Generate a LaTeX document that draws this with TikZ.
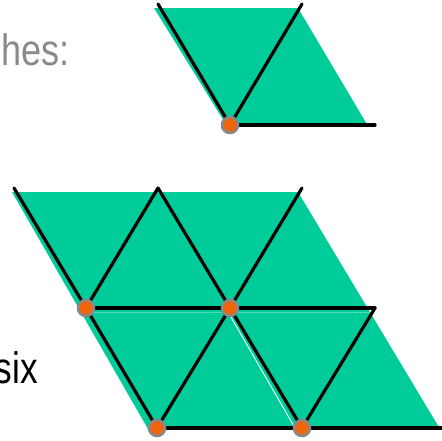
\documentclass[tikz,border=0pt]{standalone}
\usepackage{fontspec}
\setmainfont{Liberation Sans}
\definecolor{tilegreen}{HTML}{00CC99}
\definecolor{dotorange}{HTML}{F0640A}
\definecolor{ringgrey}{HTML}{888888}
\definecolor{textgrey}{HTML}{8A8A8A}
\tikzset{
  tile/.style={fill=tilegreen, draw=none},
  edge/.style={draw=black, line width=3.2pt, line cap=round},
  seam/.style={draw=white, line width=0.9pt},
  vdot/.style={circle, fill=dotorange, draw=ringgrey, line width=2.6pt, minimum size=16pt, inner sep=0pt},
  txt/.style={inner sep=0pt, font=\fontsize{44}{44}\selectfont}
}
\begin{document}
\begin{tikzpicture}[x=1pt,y=-1pt]
\useasboundingbox (0,0) rectangle (442,440);
% ---------- top figure ----------
\fill[tile] (154,8) -- (298,8) -- (368,126) -- (227,126) -- cycle;
\coordinate (ta) at (158,4);
\coordinate (tb) at (302,4);
\coordinate (tc) at (375,125);
\draw[edge] (ta) -- (230,125) -- (tb);
\draw[edge] (230,125) -- (tc);
\node[vdot] (t0) at (230,125) {};
% ---------- bottom figure ----------
\fill[tile] (12,192) -- (298,192) -- (440,429) -- (148,429) -- cycle;
\coordinate (a1) at (14,188);
\coordinate (a2) at (158,188);
\coordinate (a3) at (302,188);
\coordinate (b1) at (86,308);
\coordinate (b2) at (230,308);
\coordinate (b3) at (375,308);
\coordinate (c1) at (157,428);
\coordinate (c2) at (302,428);
\coordinate (c3) at (442,428);
% seams of the fill
\draw[seam] (228,312) -- (295,428);
\draw[seam, opacity=0.45, line width=0.5pt] (160,193) -- (227,303);
\draw[seam, opacity=0.3, line width=0.6pt] (90,312) -- (372,312);
% edges
\draw[edge] (a1) -- (b1) -- (c1);
\draw[edge] (a2) -- (b2) -- (c2);
\draw[edge] (b1) -- (a2);
\draw[edge] (b2) -- (a3);
\draw[edge] (c1) -- (b2);
\draw[edge] (c2) -- (b3);
\draw[edge] (b1) -- (b3);
\draw[edge] (c1) -- (c3);
\node[vdot] (d1) at (b1) {};
\node[vdot] (d2) at (b2) {};
\node[vdot] (d3) at (c1) {};
\node[vdot] (d4) at (c2) {};
% ---------- texts ----------
\node[txt, anchor=base east, text=textgrey] (t1) at (70,65) {\scalebox{0.82}[1]{hes:}};
\node[txt, anchor=base east, text=black] (t2) at (38,383) {\scalebox{0.8}[1]{six}};
\end{tikzpicture}
\end{document}
